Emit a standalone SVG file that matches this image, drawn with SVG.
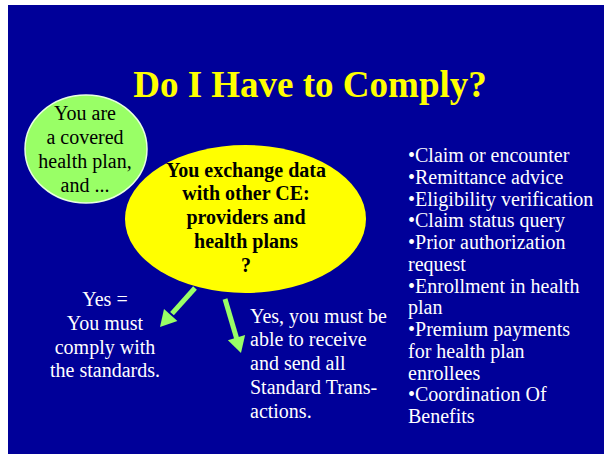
<svg xmlns="http://www.w3.org/2000/svg" width="604" height="454" viewBox="0 0 604 454" font-family="'Liberation Serif', 'Times New Roman', 'DejaVu Serif', serif" font-size="20">
<style>
.title { font-size: 37px; font-weight: bold; fill: #FFFF00; }
.dark { fill: #000000; }
.bold { font-weight: bold; }
.white { fill: #FFFFFF; }
.arrow { stroke: #99FF66; stroke-width: 5; fill: none; }
.head { fill: #99FF66; }
</style>
<rect x="0" y="0" width="604" height="454" fill="#FFFFFF"/>
<rect x="8" y="5" width="596" height="449" fill="#000099"/>
<text class="title" x="310" y="97" text-anchor="middle">Do I Have to Comply?</text>
<g id="covered-plan">
<ellipse cx="86" cy="149" rx="61" ry="54" fill="#99FF66" stroke="#E8FFE0" stroke-width="1.5"/>
<text class="dark" text-anchor="middle"><tspan x="85" y="120">You are</tspan><tspan x="85" y="144">a covered</tspan><tspan x="85" y="168">health plan,</tspan><tspan x="85" y="192">and ...</tspan></text>
</g>
<g id="exchange-data">
<ellipse cx="245.5" cy="219" rx="120.5" ry="74" fill="#FFFF00"/>
<text class="dark bold" text-anchor="middle"><tspan x="246" y="177">You exchange data</tspan><tspan x="246" y="200">with other CE:</tspan><tspan x="246" y="224">providers and</tspan><tspan x="246" y="248">health plans</tspan><tspan x="246" y="272">?</tspan></text>
</g>
<g id="connectors">
<line class="arrow" x1="195" y1="288" x2="172" y2="313.6"/>
<polygon class="head" points="160,327 177.4,321.1 164,309.1"/>
<line class="arrow" x1="225" y1="299" x2="236.9" y2="339.2"/>
<polygon class="head" points="241,353 245.1,335.1 227.9,340.3"/>
</g>
<g id="yes-comply">
<text class="white" text-anchor="middle"><tspan x="105" y="306">Yes =</tspan><tspan x="105" y="330">You must</tspan><tspan x="105" y="354">comply with</tspan><tspan x="105" y="377">the standards.</tspan></text>
</g>
<g id="yes-transactions">
<text class="white"><tspan x="250" y="323">Yes, you must be</tspan><tspan x="250" y="346">able to receive</tspan><tspan x="250" y="370">and send all</tspan><tspan x="250" y="394">Standard Trans-</tspan><tspan x="250" y="418">actions.</tspan></text>
</g>
<g id="transaction-list">
<text class="white"><tspan x="408" y="162">•Claim or encounter</tspan><tspan x="408" y="184">•Remittance advice</tspan><tspan x="408" y="206">•Eligibility verification</tspan><tspan x="408" y="227">•Claim status query</tspan><tspan x="408" y="249">•Prior authorization</tspan><tspan x="408" y="271">request</tspan><tspan x="408" y="293">•Enrollment in health</tspan><tspan x="408" y="314">plan</tspan><tspan x="408" y="336">•Premium payments</tspan><tspan x="408" y="358">for health plan</tspan><tspan x="408" y="380">enrollees</tspan><tspan x="408" y="401">•Coordination Of</tspan><tspan x="408" y="423">Benefits</tspan></text>
</g>
</svg>
